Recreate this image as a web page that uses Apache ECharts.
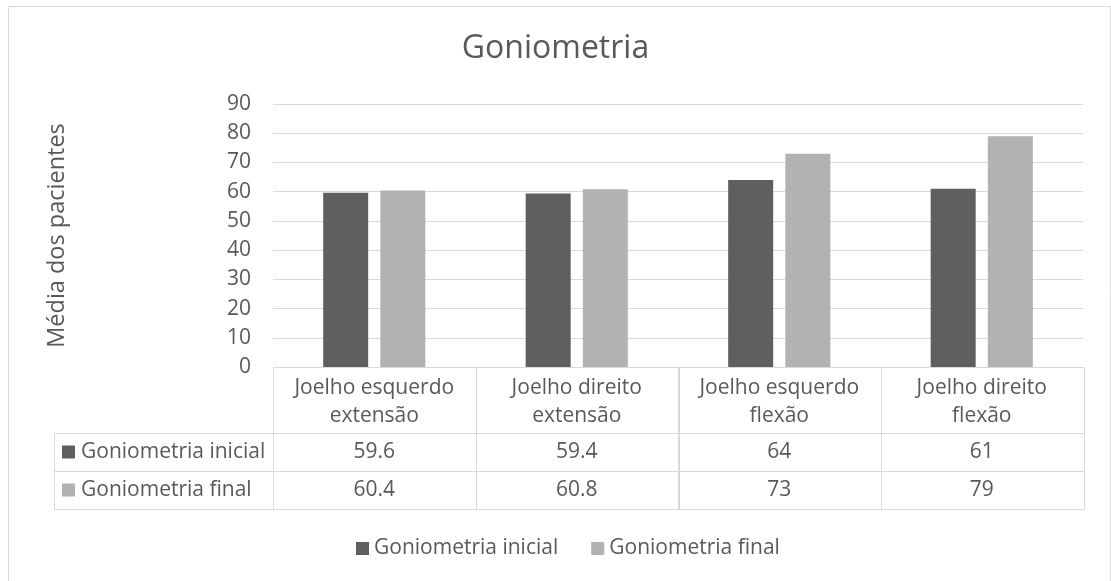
<!DOCTYPE html>
<html>
<head>
<meta charset="utf-8">
<script src="https://cdn.jsdelivr.net/npm/echarts@6/dist/echarts.min.js"></script>
<style>
html,body{margin:0;padding:0;background:#fff;}
#chart{width:1111px;height:581px;}
</style>
</head>
<body>
<div id="chart"></div>
<script>
// ---- data ----
const categories = ['Joelho esquerdo\nextensão', 'Joelho direito\nextensão', 'Joelho esquerdo\nflexão', 'Joelho direito\nflexão'];
const seriesNames = ['Goniometria inicial', 'Goniometria final'];
const inicial = [59.6, 59.4, 64, 61];
const final = [60.4, 60.8, 73, 79];
const yTicks = { min: 0, max: 90, interval: 10 };

// ---- style ----
const FONT = '"Open Sans", "DejaVu Sans", sans-serif';
const TEXT = '#595959';
const LINE = '#d9d9d9';
const COLORS = ['#5f5f5f', '#b2b2b2'];
const HEADER_H = 66, ROW_H = 38, LABEL_COL_LEFT = 54;
const FS = 21;

const tableData = categories.map((c, i) => [i, inicial[i], final[i]]);

function crisp(v) { return Math.round(v) + 0.5; }

function renderTable(params, api) {
  const cs = params.coordSys;
  const top = cs.y + cs.height;
  const colW = api.size([1, 0])[0];
  const idx = api.value(0);
  const cx = api.coord([idx, 0])[0];
  const left = cx - colW / 2;
  const vals = [api.value(1), api.value(2)];
  const children = [];
  children.push({ type: 'rect', shape: { x: crisp(left), y: crisp(top), width: Math.round(colW), height: HEADER_H },
    style: { fill: 'none', stroke: LINE, lineWidth: 1 } });
  children.push({ type: 'text', style: { text: categories[idx], x: cx, y: top + HEADER_H / 2 + 2,
    align: 'center', verticalAlign: 'middle', fontSize: FS, fontFamily: FONT, fill: TEXT, lineHeight: 28 } });
  for (let r = 0; r < 2; r++) {
    const y = top + HEADER_H + r * ROW_H;
    children.push({ type: 'rect', shape: { x: crisp(left), y: crisp(y), width: Math.round(colW), height: ROW_H },
      style: { fill: 'none', stroke: LINE, lineWidth: 1 } });
    children.push({ type: 'text', style: { text: String(vals[r]), x: cx, y: y + ROW_H / 2,
      align: 'center', verticalAlign: 'middle', fontSize: FS, fontFamily: FONT, fill: TEXT } });
  }
  if (params.dataIndex === 0) {
    const lw = cs.x - LABEL_COL_LEFT;
    for (let r = 0; r < 2; r++) {
      const y = top + HEADER_H + r * ROW_H;
      children.push({ type: 'rect', shape: { x: crisp(LABEL_COL_LEFT), y: crisp(y), width: Math.round(lw), height: ROW_H },
        style: { fill: 'none', stroke: LINE, lineWidth: 1 } });
      children.push({ type: 'rect', shape: { x: LABEL_COL_LEFT + 8, y: y + ROW_H / 2 - 6.5, width: 13, height: 13 },
        style: { fill: COLORS[r] } });
      children.push({ type: 'text', style: { text: seriesNames[r], x: LABEL_COL_LEFT + 27, y: y + ROW_H / 2,
        align: 'left', verticalAlign: 'middle', fontSize: FS, fontFamily: FONT, fill: TEXT } });
    }
  }
  return { type: 'group', children };
}

const chart = echarts.init(document.getElementById('chart'), null, { renderer: 'canvas' });
chart.setOption({
  animation: false,
  backgroundColor: '#ffffff',
  textStyle: { fontFamily: FONT, color: TEXT },
  graphic: [{
    type: 'rect', silent: true, z: -10,
    shape: { x: 8.5, y: 6.5, width: 1102, height: 620 },
    style: { fill: '#fff', stroke: LINE, lineWidth: 1 }
  }],
  title: {
    text: 'Goniometria', left: 'center', top: 28,
    textStyle: { fontFamily: FONT, fontSize: 32, fontWeight: 'normal', color: TEXT }
  },
  legend: {
    data: seriesNames, left: 351, top: 533, icon: 'rect', itemWidth: 13, itemHeight: 13, itemGap: 33,
    textStyle: { fontFamily: FONT, fontSize: FS, color: TEXT }
  },
  grid: { left: 273, right: 28, top: 104, bottom: 214 },
  xAxis: {
    type: 'category', data: categories,
    axisLine: { show: false }, axisTick: { show: false }, axisLabel: { show: false }
  },
  yAxis: {
    type: 'value', min: yTicks.min, max: yTicks.max, interval: yTicks.interval,
    name: 'Média dos pacientes', nameLocation: 'middle', nameGap: 204, nameRotate: 90,
    nameTextStyle: { fontFamily: FONT, fontSize: 23.5, color: TEXT },
    axisLine: { show: false }, axisTick: { show: false },
    axisLabel: { fontFamily: FONT, fontSize: FS, color: TEXT, margin: 22 },
    splitLine: { lineStyle: { color: LINE, width: 1 } }
  },
  series: [
    { name: seriesNames[0], type: 'bar', data: inicial, barWidth: 45, barGap: '27%', itemStyle: { color: COLORS[0] } },
    { name: seriesNames[1], type: 'bar', data: final, barWidth: 45, barGap: '27%', itemStyle: { color: COLORS[1] } },
    { name: 'table', type: 'custom', data: tableData, renderItem: renderTable, silent: true, z: 5,
      encode: { x: 0, y: 1 }, tooltip: { show: false } }
  ]
});
</script>
</body>
</html>
